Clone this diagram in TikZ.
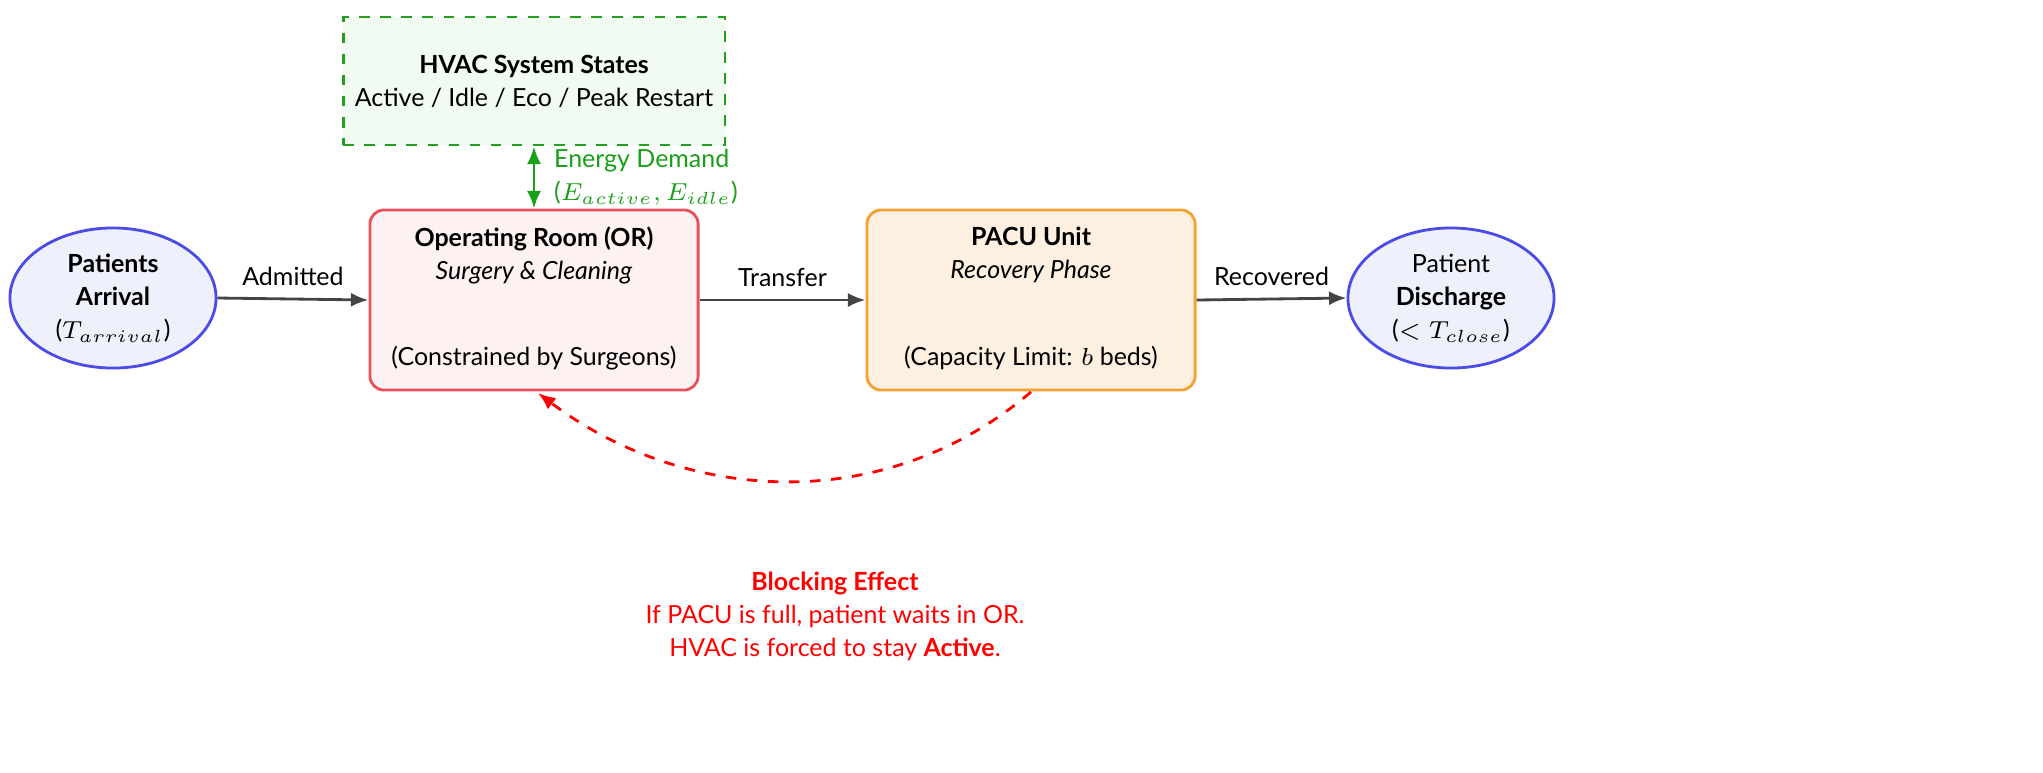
\documentclass[tikz,border=0pt]{standalone}
\usepackage{fontspec}
\setmainfont{Lato}
\usetikzlibrary{arrows.meta,shapes.geometric}
\definecolor{eblue}{HTML}{4B4BE6}\definecolor{efill}{HTML}{EEF0FC}
\definecolor{ored}{HTML}{E8505B}\definecolor{ofill}{HTML}{FDF1F1}
\definecolor{porg}{HTML}{F5A030}\definecolor{pfill}{HTML}{FEF0E1}
\definecolor{hgrn}{HTML}{22A022}\definecolor{hfill}{HTML}{F1FBF1}
\definecolor{tgrn}{HTML}{18A018}\definecolor{arr}{HTML}{444444}
\begin{document}
\begin{tikzpicture}[x=0.01cm,y=-0.01cm,
  every node/.style={font=\fontsize{7.1}{9.4}\selectfont, align=center},
  ell/.style={ellipse,draw=eblue,fill=efill,line width=0.8pt,minimum width=2.06cm,minimum height=1.4cm,inner sep=0pt},
  box/.style={rectangle,rounded corners=4pt,line width=0.8pt,minimum width=3.28cm,minimum height=1.8cm,inner sep=0pt},
  flow/.style={-{Latex[length=5pt,width=4pt]},draw=arr,line width=0.8pt}]
\useasboundingbox (0,0) rectangle (2043,772);
\node[ell] (arr) at (113,298) {\textbf{Patients}\\\textbf{Arrival}\\($T_{arrival}$)};
\node[box,draw=ored,fill=ofill] (or) at (534,300) {};
\node at (534,255) {\textbf{Operating Room (OR)}\\\textit{Surgery \& Cleaning}};
\node at (534,358) {(Constrained by Surgeons)};
\node[box,draw=porg,fill=pfill] (pacu) at (1031,300) {};
\node at (1031,255) {\textbf{PACU Unit}\\\textit{Recovery Phase}};
\node at (1031,358) {(Capacity Limit: $b$ beds)};
\node[ell] (dis) at (1451,298) {Patient\\\textbf{Discharge}\\($<T_{close}$)};
\node[rectangle,draw=hgrn,fill=hfill,dashed,line width=0.8pt,minimum width=3.74cm,minimum height=1.28cm] (hvac) at (534,81) {\textbf{HVAC System States}\\Active / Idle / Eco / Peak Restart};
\draw[{Latex[length=5pt,width=4pt]}-{Latex[length=5pt,width=4pt]},draw=tgrn,line width=0.8pt] (hvac.south) -- (or.north)
  node[midway,right,xshift=2pt,text=tgrn,align=left] {Energy Demand\\($E_{active},E_{idle}$)};
\draw[flow] (arr.east) -- node[above] {Admitted} (or.west);
\draw[flow] (or.east) -- node[above] {Transfer} (pacu.west);
\draw[flow] (pacu.east) -- node[above] {Recovered} (dis.west);
\coordinate (ps) at (1031,392);
\coordinate (os) at (538,393);
\draw[red,dashed,line width=0.8pt,-{Latex[length=5pt,width=4pt]}] (ps) .. controls (880,520) and (680,500) .. (os);
\node[text=red] (blk) at (835,616) {\textbf{Blocking Effect}\\If PACU is full, patient waits in OR.\\HVAC is forced to stay \textbf{Active}.};
\end{tikzpicture}
\end{document}
